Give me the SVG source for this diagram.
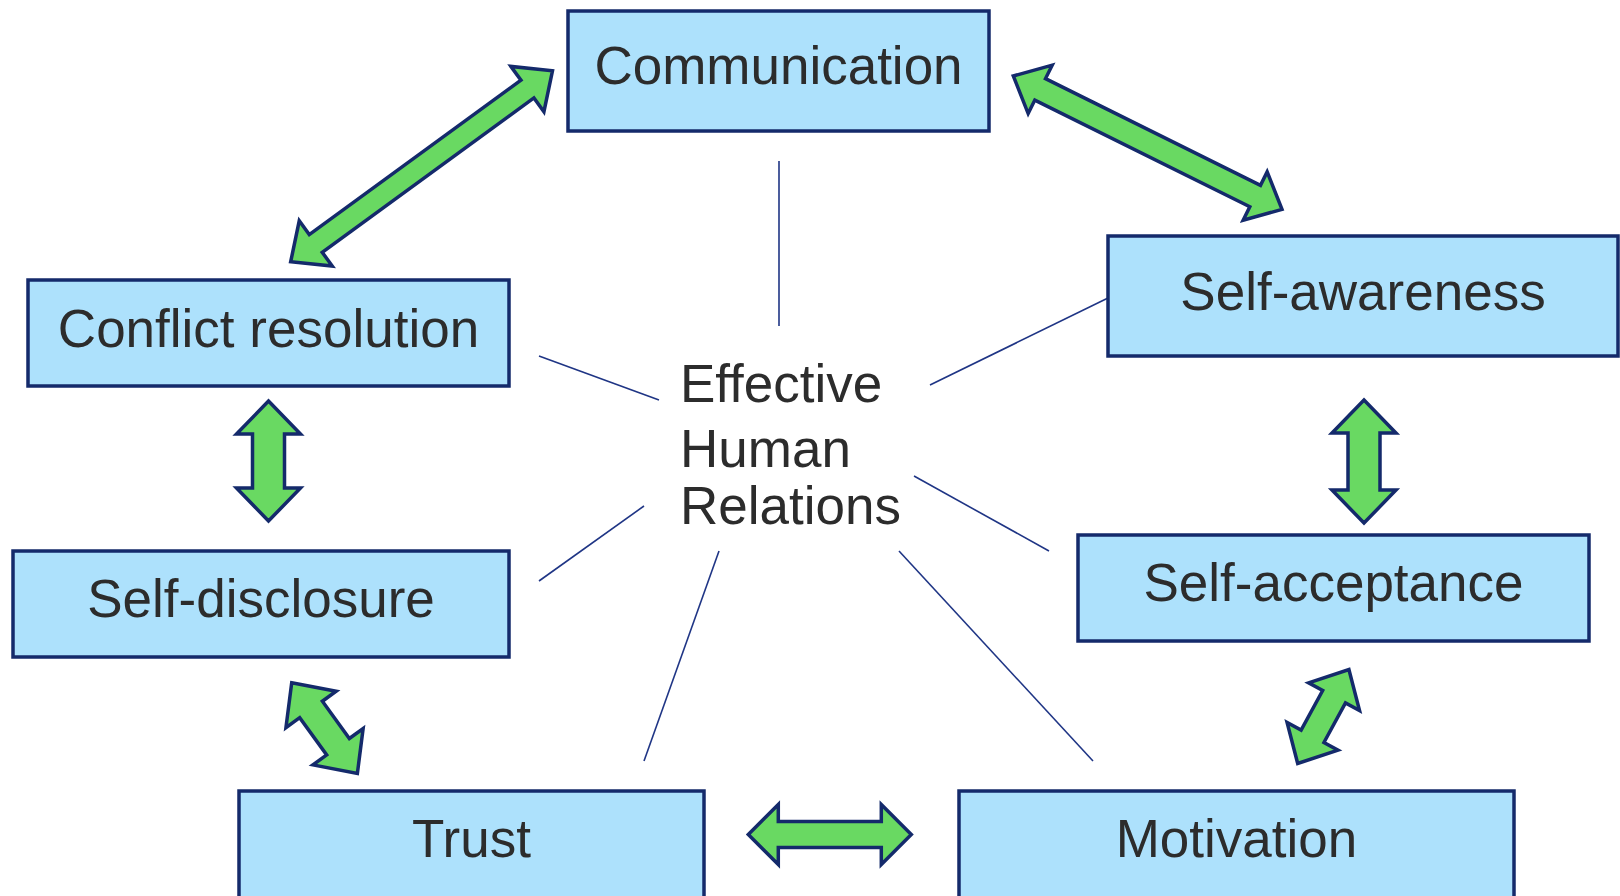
<svg xmlns="http://www.w3.org/2000/svg" width="1620" height="896" viewBox="0 0 1620 896">
<style>
.box{fill:#ade1fc;stroke:#142a6b;stroke-width:3.5}
.lbl{font-family:"Liberation Sans",Arial,sans-serif;font-size:53px;fill:#2c2c2c;text-anchor:middle}
.ctr{font-family:"Liberation Sans",Arial,sans-serif;font-size:53px;fill:#2c2c2c}
.ln{stroke:#1f3585;stroke-width:1.6;fill:none}
.arr{fill:#69d962;stroke:#142a6b;stroke-width:3.5;stroke-linejoin:miter}
</style>
<rect width="1620" height="896" fill="#ffffff"/>
<g id="connectors">
<line class="ln" x1="779" y1="161" x2="779" y2="326"/>
<line class="ln" x1="539" y1="356" x2="659" y2="400"/>
<line class="ln" x1="930" y1="385" x2="1108" y2="298"/>
<line class="ln" x1="914" y1="476" x2="1049" y2="551"/>
<line class="ln" x1="644" y1="506" x2="539" y2="581"/>
<line class="ln" x1="719" y1="551" x2="644" y2="761"/>
<line class="ln" x1="899" y1="551" x2="1093" y2="761"/>
<path class="arr" transform="translate(290.7,261.7) rotate(-36.1)" d="M0,0 L31,-28 L31,-11 L293,-11 L293,-28 L324,0 L293,28 L293,11 L31,11 L31,28 Z"/>
<path class="arr" transform="translate(1013.3,76) rotate(26.4)" d="M0,0 L30,-27 L30,-12 L270,-12 L270,-27 L300,0 L270,27 L270,12 L30,12 L30,27 Z"/>
<path class="arr" transform="translate(268.5,401) rotate(90)" d="M0,0 L33,-32 L33,-16 L87,-16 L87,-32 L120,0 L87,32 L87,16 L33,16 L33,32 Z"/>
<path class="arr" transform="translate(1364,400) rotate(90)" d="M0,0 L33,-32 L33,-16 L90,-16 L90,-32 L123,0 L90,32 L90,16 L33,16 L33,32 Z"/>
<path class="arr" transform="translate(291.7,682.7) rotate(54.1)" d="M0,0 L33,-31 L33,-14 L79,-14 L79,-31 L112,0 L79,31 L79,14 L33,14 L33,31 Z"/>
<path class="arr" transform="translate(748.3,834.5)" d="M0,0 L30,-30 L30,-13 L133,-13 L133,-30 L163,0 L133,30 L133,13 L30,13 L30,30 Z"/>
<path class="arr" transform="translate(1297.7,763.5) rotate(-61.4)" d="M0,0 L31,-29 L31,-13 L76,-13 L76,-29 L107,0 L76,29 L76,13 L31,13 L31,29 Z"/>
</g>
<g id="communication"><rect class="box" x="568" y="11" width="421" height="120"/><text class="lbl" x="778.5" y="84">Communication</text></g>
<g id="conflict-resolution"><rect class="box" x="28" y="280" width="481" height="106"/><text class="lbl" x="268.5" y="347">Conflict resolution</text></g>
<g id="self-awareness"><rect class="box" x="1108" y="236" width="510" height="120"/><text class="lbl" x="1363" y="310">Self-awareness</text></g>
<g id="self-disclosure"><rect class="box" x="13" y="551" width="496" height="106"/><text class="lbl" x="261" y="617">Self-disclosure</text></g>
<g id="self-acceptance"><rect class="box" x="1078" y="535" width="511" height="106"/><text class="lbl" x="1333.5" y="601">Self-acceptance</text></g>
<g id="trust"><rect class="box" x="239" y="791" width="465" height="110"/><text class="lbl" x="471.5" y="857">Trust</text></g>
<g id="motivation"><rect class="box" x="959" y="791" width="555" height="110"/><text class="lbl" x="1236.5" y="857">Motivation</text></g>
<g id="center"><text class="ctr" x="680" y="402">Effective</text><text class="ctr" x="680" y="467">Human</text><text class="ctr" x="680" y="524">Relations</text></g>
</svg>
